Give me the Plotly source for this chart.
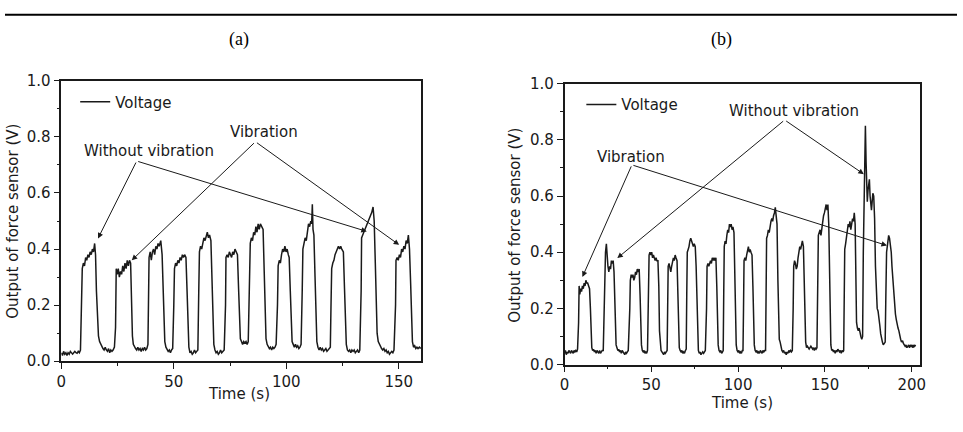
import plotly.graph_objects as go

# ---------------- data: panel (a) ----------------
time_a = [
    0, 0.5, 1, 1.5, 2, 2.5, 3, 3.5, 4, 4.5, 5, 5.5, 6, 6.5, 7, 7.5, 8, 8.5,
    8.8, 9.0, 9.3, 9.8, 10.3, 10.8, 11.3, 11.8, 12.3, 12.8, 13.3, 13.8, 14.3, 14.8, 15.2, 15.6, 16.0, 16.5,
    17, 17.5, 18, 18.5, 19, 19.5, 20, 20.5, 21, 21.5, 22, 22.5, 23, 23.6,
    24.1, 24.4, 24.8, 25.3, 25.8, 26.3, 26.8, 27.3, 27.8, 28.3, 28.8, 29.3, 29.8, 30.3, 30.8, 31.2, 31.6,
    32, 32.5, 33, 33.5, 34, 34.5, 35, 35.5, 36, 36.5, 37, 37.5, 38, 38.5,
    38.8, 39.0, 39.5, 40, 40.5, 41, 41.5, 42, 42.5, 43, 43.5, 44.2, 44.8, 45.2, 45.6, 46, 46.5, 47, 47.5,
    48, 48.5, 49, 49.5,
    50.0, 50.3, 50.8, 51.3, 51.8, 52.3, 52.8, 53.3, 53.8, 54.3, 54.8, 55.4, 55.9, 56.3, 56.7, 57.2, 57.7,
    58.2, 58.7, 59.2, 59.7, 60.2, 60.7,
    61.1, 61.4, 61.9, 62.4, 62.9, 63.4, 63.9, 64.4, 64.9, 65.4, 65.9, 66.5, 67.0, 67.4, 67.8, 68.3, 68.8,
    69.3, 69.8, 70.3, 70.8, 71.3, 71.8, 72.4,
    73.0, 73.2, 73.7, 74.2, 74.7, 75.2, 75.7, 76.2, 76.7, 77.2, 77.7, 78.3, 78.8, 79.2, 79.6, 80.1, 80.6,
    81.1, 81.6, 82.1, 82.6, 83.1,
    83.7, 84, 84.5, 85, 85.5, 86, 86.5, 87, 87.5, 88, 88.5, 89, 89.7, 90.2, 90.6, 91, 91.5, 92, 92.5, 93,
    93.5, 94, 94.5, 95, 95.5,
    96.1, 96.4, 96.9, 97.4, 97.9, 98.4, 98.9, 99.4, 99.9, 100.4, 100.9, 101.3, 101.8, 102.2, 102.6, 103.1,
    103.6, 104.1, 104.6, 105.1, 105.6, 106.1, 106.6,
    107.1, 107.4, 107.9, 108.4, 108.9, 109.4, 109.9, 110.4, 110.9, 111.3, 111.6, 111.9, 112.3, 112.8, 113.2,
    113.6, 114.1, 114.6, 115.1, 115.6, 116.1, 116.6, 117.1, 117.6, 118.1, 118.6, 119.1, 119.6,
    119.9, 120.2, 120.7, 121.2, 121.7, 122.2, 122.7, 123.2, 123.7, 124.2, 124.7, 125.4, 125.9, 126.3, 126.7,
    127.2, 127.7, 128.2, 128.7, 129.2, 129.7, 130.2, 130.7, 131.2, 131.7, 132.2, 132.7,
    133.3, 133.5, 134, 134.5, 135, 135.5, 136, 136.5, 137, 137.5, 138, 138.6, 139.1, 139.6, 140, 140.4,
    140.9, 141.4, 141.9, 142.4, 142.9, 143.4, 143.9, 144.4, 144.9, 145.4, 145.9, 146.4, 146.9, 147.4, 147.9,
    148.6, 148.8, 149.3, 149.8, 150.3, 150.8, 151.3, 151.8, 152.3, 152.8, 153.3, 153.8, 154.3, 154.8, 155.3,
    155.7, 156.1, 156.6, 157.1, 157.6, 158.1, 158.6, 159.2, 159.8,
]
volt_a = [
    0.03, 0.02, 0.035, 0.025, 0.03, 0.02, 0.03, 0.025, 0.035, 0.03, 0.025, 0.03, 0.035, 0.03, 0.028, 0.035, 0.03, 0.04,
    0.15, 0.30, 0.33, 0.35, 0.34, 0.37, 0.36, 0.38, 0.37, 0.39, 0.38, 0.40, 0.39, 0.42, 0.38, 0.25, 0.14, 0.09,
    0.07, 0.06, 0.05, 0.045, 0.04, 0.05, 0.04, 0.035, 0.045, 0.03, 0.04, 0.035, 0.04, 0.05,
    0.12, 0.33, 0.31, 0.33, 0.30, 0.32, 0.31, 0.34, 0.32, 0.35, 0.33, 0.36, 0.34, 0.36, 0.35, 0.20, 0.09,
    0.06, 0.05, 0.045, 0.04, 0.05, 0.04, 0.045, 0.035, 0.045, 0.04, 0.05, 0.04, 0.045, 0.06,
    0.20, 0.37, 0.39, 0.36, 0.39, 0.40, 0.38, 0.41, 0.40, 0.42, 0.41, 0.43, 0.38, 0.25, 0.12, 0.07, 0.05, 0.04, 0.035,
    0.04, 0.03, 0.04, 0.045,
    0.20, 0.33, 0.35, 0.34, 0.36, 0.35, 0.37, 0.36, 0.38, 0.37, 0.38, 0.37, 0.25, 0.10, 0.05, 0.03, 0.035,
    0.025, 0.03, 0.04, 0.03, 0.035, 0.04,
    0.25, 0.39, 0.41, 0.40, 0.42, 0.44, 0.43, 0.45, 0.46, 0.44, 0.45, 0.43, 0.30, 0.12, 0.06, 0.04, 0.03,
    0.035, 0.025, 0.03, 0.04, 0.03, 0.035, 0.04,
    0.20, 0.37, 0.38, 0.37, 0.39, 0.38, 0.37, 0.39, 0.38, 0.40, 0.39, 0.38, 0.26, 0.12, 0.08, 0.07, 0.06,
    0.07, 0.065, 0.07, 0.06, 0.07,
    0.25, 0.42, 0.44, 0.43, 0.46, 0.45, 0.48, 0.46, 0.49, 0.47, 0.49, 0.48, 0.47, 0.32, 0.14, 0.08, 0.06, 0.05, 0.045, 0.05,
    0.04, 0.05, 0.045, 0.05, 0.06,
    0.20, 0.34, 0.36, 0.35, 0.38, 0.40, 0.39, 0.41, 0.39, 0.40, 0.38, 0.37, 0.25, 0.10, 0.07, 0.06,
    0.05, 0.06, 0.05, 0.055, 0.045, 0.05, 0.06,
    0.25, 0.40, 0.42, 0.44, 0.43, 0.47, 0.49, 0.48, 0.50, 0.49, 0.56, 0.47, 0.45, 0.30, 0.14,
    0.07, 0.05, 0.04, 0.05, 0.04, 0.045, 0.035, 0.04, 0.045, 0.035, 0.04, 0.045, 0.05,
    0.20, 0.33, 0.35, 0.36, 0.38, 0.39, 0.40, 0.41, 0.40, 0.41, 0.40, 0.39, 0.26, 0.12, 0.06,
    0.04, 0.035, 0.04, 0.03, 0.04, 0.035, 0.04, 0.03, 0.035, 0.04, 0.03, 0.04,
    0.25, 0.44, 0.45, 0.46, 0.47, 0.48, 0.49, 0.50, 0.51, 0.52, 0.53, 0.55, 0.50, 0.35, 0.18, 0.10,
    0.07, 0.06, 0.05, 0.045, 0.04, 0.045, 0.035, 0.04, 0.03, 0.035, 0.025, 0.03, 0.035, 0.03, 0.04,
    0.20, 0.36, 0.37, 0.36, 0.38, 0.37, 0.40, 0.39, 0.41, 0.40, 0.43, 0.42, 0.45, 0.40, 0.28,
    0.12, 0.07, 0.05, 0.055, 0.045, 0.05, 0.045, 0.05, 0.045,
]

# ---------------- data: panel (b) ----------------
time_b = [
    0, 0.5, 1, 1.5, 2, 2.5, 3, 3.5, 4, 4.5, 5, 5.5, 6, 6.5, 7, 7.5,
    8.1, 8.4, 8.8, 9.3, 9.8, 10.3, 10.8, 11.3, 11.8, 12.3, 12.8, 13.3, 13.8, 14.4, 14.9, 15.3, 15.7, 16.2,
    16.7, 17.2, 17.7, 18.2, 18.7, 19.2, 19.7, 20.2, 20.7, 21.2, 21.7, 22.3,
    22.9, 23.2, 23.6, 24.1, 24.5, 25, 25.5, 26, 26.5, 27, 27.5, 28, 28.5, 28.9, 29.3, 29.7, 30.2, 30.7,
    31.2, 31.7, 32.2, 32.7, 33.2, 33.7, 34.2, 34.7, 35.2, 35.7, 36.2, 36.7,
    37.6, 37.9, 38.4, 38.9, 39.4, 39.9, 40.4, 40.9, 41.4, 41.9, 42.4, 43, 43.5, 43.9, 44.3, 44.8, 45.3,
    45.8, 46.3, 46.8, 47.3, 47.8,
    48.4, 48.7, 49.2, 49.7, 50.2, 50.7, 51.2, 51.7, 52.2, 52.7, 53.2, 53.8, 54.3, 54.7, 55.1, 55.6, 56.1,
    56.6, 57.1, 57.6, 58.1, 58.6, 59.1,
    59.4, 59.7, 60.2, 60.7, 61.2, 61.7, 62.2, 62.7, 63.2, 63.7, 64.2, 64.8, 65.3, 65.7, 66.1, 66.6, 67.1,
    67.6, 68.1, 68.6, 69.1, 69.6, 70.1,
    70.4, 70.7, 71.2, 71.7, 72.2, 72.7, 73.2, 73.7, 74.2, 74.7, 75.3, 75.8, 76.3, 76.7, 77.1, 77.6, 78.1,
    78.6, 79.1, 79.6, 80.1, 80.6, 81.1,
    81.8, 82.1, 82.6, 83.1, 83.6, 84.1, 84.6, 85.1, 85.6, 86.1, 86.6, 87.2, 87.7, 88.1, 88.5, 89, 89.5,
    90, 90.5, 91, 91.4,
    91.7, 92, 92.5, 93, 93.5, 94, 94.5, 95, 95.5, 96, 96.5, 97, 97.6, 98.1, 98.5, 98.9, 99.4, 99.9,
    100.4, 100.9, 101.4, 101.9, 102.4, 102.8,
    103.1, 103.4, 103.9, 104.4, 104.9, 105.4, 105.9, 106.4, 106.9, 107.4, 108, 108.5, 108.9, 109.3, 109.8,
    110.3, 110.8, 111.3, 111.8, 112.3, 112.8, 113.3, 113.8, 114.3, 114.8, 115.3, 115.8,
    116.1, 116.4, 116.9, 117.4, 117.9, 118.4, 118.9, 119.4, 119.9, 120.4, 120.9, 121.4, 121.9, 122.4, 122.9,
    123.3, 123.7, 124.2, 124.7, 125.2, 125.7, 126.2, 126.7, 127.2, 127.7, 128.2, 128.7, 129.2, 129.7,
    130.2, 130.7, 131.2,
    131.7, 132, 132.5, 133, 133.5, 134, 134.5, 135, 135.5, 136, 136.5, 137, 137.6, 138.1, 138.5, 138.9,
    139.4, 139.9, 140.4, 140.9, 141.4, 141.9, 142.4, 142.9, 143.4, 143.9, 144.4, 144.9, 145.4,
    145.9, 146.2, 146.7, 147.2, 147.7, 148.2, 148.7, 149.2, 149.7, 150.2, 150.7, 151.2, 151.7, 152.2, 152.6,
    153, 153.4, 153.9, 154.4, 154.9, 155.4, 155.9, 156.4, 156.9, 157.4, 157.9, 158.4, 158.9, 159.4, 159.9,
    160.4, 160.8,
    161.1, 161.4, 161.9, 162.4, 162.9, 163.4, 163.9, 164.4, 164.9, 165.4, 165.9, 166.4, 166.9, 167.4, 167.8,
    168.2, 168.7, 169.2, 169.7, 170.2, 170.7, 171.2,
    171.7, 172.1, 172.5, 172.9, 173.3, 173.7, 174.1, 174.4, 174.8, 175.2, 175.6, 176, 176.4, 176.8, 177.2,
    177.6, 178.1, 178.6, 179.1, 179.6, 180.1, 180.6, 181.1, 181.6, 182.1, 182.6, 183.1, 183.6, 184.1, 184.7,
    185.1, 185.5, 186.1, 186.7, 187.2, 187.7, 188.2, 188.6, 189.1, 189.6, 190.1, 190.6, 191.1, 191.6, 192.1,
    192.6, 193.1, 193.6, 194.1, 194.7, 195.2, 195.7, 196.2, 196.7, 197.2, 197.7, 198.2, 198.7, 199.2, 199.7,
    200.2, 200.7, 201.2, 201.7, 202.2,
]
volt_b = [
    0.04, 0.05, 0.035, 0.045, 0.04, 0.05, 0.045, 0.04, 0.05, 0.045, 0.04, 0.05, 0.045, 0.05, 0.045, 0.055,
    0.15, 0.28, 0.25, 0.27, 0.26, 0.28, 0.27, 0.29, 0.28, 0.30, 0.29, 0.29, 0.28, 0.27, 0.20, 0.10, 0.06, 0.05,
    0.055, 0.045, 0.05, 0.04, 0.05, 0.045, 0.04, 0.05, 0.04, 0.045, 0.05, 0.05,
    0.20, 0.36, 0.40, 0.43, 0.38, 0.35, 0.33, 0.35, 0.34, 0.37, 0.36, 0.37, 0.33, 0.20, 0.10, 0.07, 0.06, 0.05,
    0.055, 0.045, 0.05, 0.04, 0.05, 0.045, 0.04, 0.035, 0.045, 0.04, 0.045, 0.05,
    0.20, 0.30, 0.32, 0.31, 0.32, 0.30, 0.31, 0.33, 0.32, 0.34, 0.33, 0.34, 0.25, 0.12, 0.07, 0.05, 0.045,
    0.05, 0.04, 0.045, 0.04, 0.05,
    0.25, 0.39, 0.40, 0.39, 0.40, 0.38, 0.39, 0.38, 0.37, 0.38, 0.37, 0.37, 0.28, 0.12, 0.07, 0.05, 0.045,
    0.04, 0.035, 0.045, 0.04, 0.045, 0.05,
    0.20, 0.35, 0.36, 0.34, 0.33, 0.35, 0.37, 0.38, 0.37, 0.39, 0.38, 0.37, 0.25, 0.10, 0.06, 0.05, 0.045,
    0.05, 0.04, 0.045, 0.04, 0.05, 0.055,
    0.25, 0.40, 0.41, 0.42, 0.44, 0.45, 0.44, 0.43, 0.42, 0.43, 0.42, 0.35, 0.18, 0.08, 0.05, 0.04, 0.045,
    0.035, 0.04, 0.045, 0.04, 0.045, 0.05,
    0.20, 0.35, 0.36, 0.35, 0.36, 0.37, 0.36, 0.38, 0.37, 0.38, 0.37, 0.38, 0.28, 0.12, 0.07, 0.05, 0.045,
    0.05, 0.04, 0.045, 0.05,
    0.25, 0.42, 0.44, 0.43, 0.46, 0.48, 0.47, 0.50, 0.49, 0.50, 0.48, 0.49, 0.47, 0.32, 0.14, 0.07, 0.05, 0.045,
    0.05, 0.04, 0.045, 0.04, 0.05, 0.05,
    0.20, 0.37, 0.38, 0.37, 0.39, 0.41, 0.42, 0.40, 0.41, 0.40, 0.39, 0.28, 0.12, 0.07, 0.05,
    0.045, 0.05, 0.04, 0.045, 0.04, 0.05, 0.045, 0.04, 0.05, 0.045, 0.05, 0.05,
    0.25, 0.45, 0.46, 0.48, 0.47, 0.50, 0.51, 0.52, 0.51, 0.53, 0.54, 0.56, 0.53, 0.50, 0.30,
    0.12, 0.09, 0.08, 0.06, 0.05, 0.045, 0.05, 0.04, 0.045, 0.035, 0.045, 0.04, 0.05, 0.045,
    0.05, 0.045, 0.05,
    0.20, 0.35, 0.37, 0.36, 0.34, 0.35, 0.38, 0.40, 0.42, 0.41, 0.43, 0.44, 0.42, 0.30, 0.12, 0.08,
    0.06, 0.065, 0.06, 0.055, 0.06, 0.065, 0.06, 0.055, 0.06, 0.05, 0.06, 0.055, 0.06,
    0.25, 0.46, 0.47, 0.48, 0.46, 0.49, 0.51, 0.53, 0.54, 0.56, 0.57, 0.55, 0.57, 0.50, 0.30,
    0.12, 0.07, 0.05, 0.055, 0.045, 0.05, 0.04, 0.05, 0.045, 0.055, 0.05, 0.045, 0.05, 0.04, 0.05,
    0.045, 0.05,
    0.25, 0.41, 0.43, 0.45, 0.48, 0.50, 0.49, 0.51, 0.48, 0.50, 0.52, 0.51, 0.54, 0.50, 0.30,
    0.15, 0.13, 0.12, 0.13, 0.11, 0.10, 0.09,
    0.10, 0.40, 0.62, 0.78, 0.85, 0.72, 0.62, 0.58, 0.62, 0.64, 0.66, 0.60, 0.56, 0.55, 0.58,
    0.61, 0.60, 0.52, 0.35, 0.22, 0.20, 0.19, 0.17, 0.14, 0.11, 0.09, 0.08, 0.07, 0.075, 0.08,
    0.25, 0.40, 0.43, 0.46, 0.45, 0.43, 0.40, 0.35, 0.30, 0.25, 0.22, 0.18, 0.16, 0.14, 0.13,
    0.12, 0.10, 0.09, 0.08, 0.085, 0.075, 0.07, 0.065, 0.07, 0.06, 0.065, 0.07, 0.06, 0.07, 0.065,
    0.07, 0.06, 0.07, 0.065, 0.07,
]

panel_titles = ["(a)", "(b)"]
x_title = "Time (s)"
y_title = "Output of force sensor (V)"
legend_name = "Voltage"
y_ticks = [0.0, 0.2, 0.4, 0.6, 0.8, 1.0]
x_ticks_a = [0, 50, 100, 150]
x_ticks_b = [0, 50, 100, 150, 200]

# annotation label positions (data coords) and arrow heads
ann_a = [
    ("Without vibration", 38.8, 0.749, 33.5, 0.714, [(16.3, 0.438), (135.8, 0.463)]),
    ("Vibration", 90.2, 0.819, 86.3, 0.783, [(31.3, 0.360), (150.2, 0.415)]),
]
ann_b = [
    ("Without vibration", 131.9, 0.903, 126.8, 0.871, [(172.4, 0.678), (30.4, 0.379)]),
    ("Vibration", 38.0, 0.740, 38.8, 0.711, [(10.3, 0.312), (185.7, 0.424)]),
]

W, H = 963, 432
FONT = "DejaVu Sans"
INK = "#1a1a1a"


def px(x):
    return x / W


def py(y):
    return 1 - y / H


fig = go.Figure()
fig.add_trace(go.Scatter(x=time_a, y=volt_a, mode="lines", name=legend_name,
                         line=dict(color=INK, width=1.5), xaxis="x", yaxis="y",
                         legend="legend"))
fig.add_trace(go.Scatter(x=time_b, y=volt_b, mode="lines", name=legend_name,
                         line=dict(color=INK, width=1.5), xaxis="x2", yaxis="y2",
                         legend="legend2"))

axis_common = dict(showline=True, linecolor=INK, linewidth=1.5, mirror=True,
                   ticks="outside", ticklen=6, tickwidth=1.2, tickcolor=INK,
                   showgrid=False, zeroline=False,
                   tickfont=dict(family=FONT, size=15, color=INK))

fig.update_layout(
    width=W, height=H, margin=dict(l=0, r=0, t=0, b=0),
    paper_bgcolor="white", plot_bgcolor="white",
    xaxis=dict(domain=[px(57), px(421)], range=[0, 160], tickvals=x_ticks_a,
               minor=dict(dtick=25, ticks="outside", ticklen=3, tickcolor=INK),
               anchor="y", **axis_common),
    yaxis=dict(domain=[py(367.5), py(75)], range=[0, 1.0], tickvals=y_ticks, tickformat=".1f",
               minor=dict(dtick=0.1, ticks="outside", ticklen=3, tickcolor=INK),
               anchor="x", **axis_common),
    xaxis2=dict(domain=[px(566), px(926)], range=[0, 205], tickvals=x_ticks_b,
                minor=dict(dtick=25, ticks="outside", ticklen=3, tickcolor=INK),
                anchor="y2", **axis_common),
    yaxis2=dict(domain=[py(371), py(78)], range=[0, 1.0], tickvals=y_ticks, tickformat=".1f",
                minor=dict(dtick=0.1, ticks="outside", ticklen=3, tickcolor=INK),
                anchor="x2", **axis_common),
    legend=dict(x=px(71), y=py(97), xanchor="left", yanchor="middle",
                bgcolor="rgba(0,0,0,0)", font=dict(family=FONT, size=15, color=INK)),
    legend2=dict(x=px(583), y=py(100), xanchor="left", yanchor="middle",
                 bgcolor="rgba(0,0,0,0)", font=dict(family=FONT, size=15, color=INK)),
    showlegend=True,
)

annotations = []
for (xr, yr, anns) in [("x", "y", ann_a), ("x2", "y2", ann_b)]:
    for text, tx, ty, ox, oy, heads in anns:
        annotations.append(dict(x=tx, y=ty, xref=xr, yref=yr, text=text, showarrow=False,
                                xanchor="center", yanchor="middle",
                                font=dict(family=FONT, size=15, color=INK)))
        for hx, hy in heads:
            annotations.append(dict(x=hx, y=hy, xref=xr, yref=yr, ax=ox, ay=oy,
                                    axref=xr, ayref=yr, text="", showarrow=True,
                                    arrowhead=2, arrowsize=1.1, arrowwidth=1,
                                    arrowcolor=INK, standoff=0, startstandoff=0))


def label(text, cx, cy, size=15, family=FONT, angle=0, color=INK):
    return dict(x=px(cx), y=py(cy), xref="paper", yref="paper", text=text, textangle=angle,
                xanchor="center", yanchor="middle", showarrow=False,
                font=dict(family=family, size=size, color=color))


for title, cx in zip(panel_titles, [237, 725]):
    annotations.append(label(title, cx, 32, size=18, family="Liberation Serif", color="black"))
annotations.append(label(x_title, 237, 402))
annotations.append(label(x_title, 746, 411))
annotations.append(label(y_title, 8, 221, angle=-90))
annotations.append(label(y_title, 515, 226, angle=-90))
fig.update_layout(annotations=annotations)

# top rule
fig.add_shape(type="line", xref="paper", yref="paper", x0=0, x1=1, y0=py(6), y1=py(6),
              line=dict(color="black", width=2))

fig.write_html("out.html")
